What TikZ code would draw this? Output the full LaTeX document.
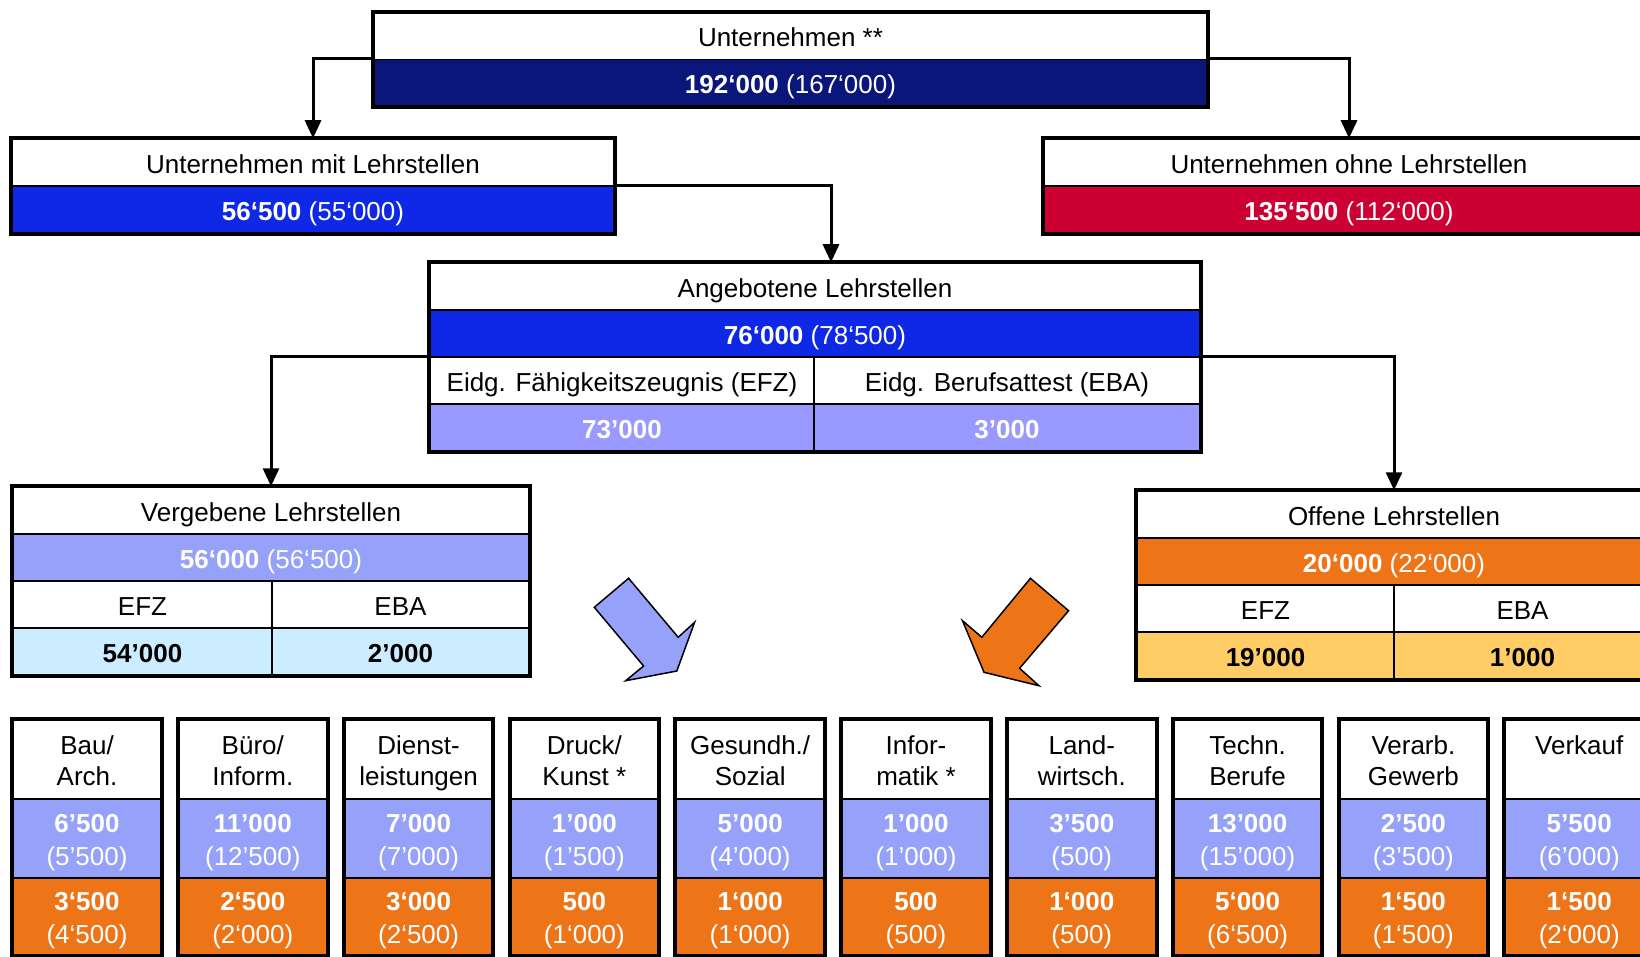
\documentclass[tikz,border=0pt]{standalone}
\usepackage{fontspec}
\setmainfont{Liberation Sans}
\definecolor{unternavy}{RGB}{10, 22, 122}
\definecolor{lehrblue}{RGB}{14, 40, 230}
\definecolor{ohnered}{RGB}{204, 0, 51}
\definecolor{angviolet}{RGB}{153, 153, 255}
\definecolor{vergblue}{RGB}{150, 162, 250}
\definecolor{vergcyan}{RGB}{204, 236, 255}
\definecolor{offorange}{RGB}{238, 116, 24}
\definecolor{offyellow}{RGB}{255, 204, 102}
\usepackage{tikz}
\usetikzlibrary{arrows.meta}
\newcommand{\cellfont}{\fontsize{26}{31}\selectfont}
\newcommand{\colfont}{\fontsize{26}{31}\selectfont}
\newcommand{\numfont}{\fontsize{26}{33}\selectfont}
\newcommand{\colstrut}{\rule{0pt}{30.3pt}}

\begin{document}
\begin{tikzpicture}[x=1pt, y=-1pt,
  cellbase/.style={draw=black, line width=1.5pt, inner sep=0pt, align=center, font=\cellfont},
  cell/.style={cellbase, text height=27pt, text depth=5.5pt},
  numcell/.style={cell, text=white},
  frame/.style={draw=black, line width=4pt},
  conn/.style={draw=black, line width=3pt, -{Triangle[length=18pt, width=16pt]}},
  colhead/.style={cellbase, fill=white, minimum width=148pt, minimum height=79pt, font=\colfont},
  colblue/.style={cellbase, text=white, fill=vergblue, minimum width=148pt, minimum height=79pt, font=\numfont},
  colorange/.style={cellbase, text=white, fill=offorange, minimum width=148pt, minimum height=77pt, font=\numfont},
  blockarrow/.style={draw=black, line width=1.5pt, line join=miter}
]
  \useasboundingbox (0,0) rectangle (1640,957);

  % Unternehmen
  \node[cell, fill=white, minimum width=833pt, minimum height=46.5pt] (unt) at (790.5,36.25) {Unternehmen **};
  \node[numcell, fill=unternavy, minimum width=833pt, minimum height=46.5pt] (untnum) at (790.5,82.75) {\textbf{192‘000} (167‘000)};
  \draw[frame] (unt.north west) rectangle (untnum.south east);

  \node[cell, fill=white, minimum width=602pt, minimum height=47pt] (mit) at (313,162.5) {Unternehmen mit Lehrstellen};
  \node[numcell, fill=lehrblue, minimum width=602pt, minimum height=47pt] (mitnum) at (313,209.5) {\textbf{56‘500} (55‘000)};
  \draw[frame] (mit.north west) rectangle (mitnum.south east);

  \node[cell, fill=white, minimum width=610pt, minimum height=47pt] (ohne) at (1349,162.5) {Unternehmen ohne Lehrstellen};
  \node[numcell, fill=ohnered, minimum width=610pt, minimum height=47pt] (ohnenum) at (1349,209.5) {\textbf{135‘500} (112‘000)};
  \draw[frame] (ohne.north west) rectangle (ohnenum.south east);

  % Angebotene Lehrstellen
  \node[cell, fill=white, minimum width=770pt, minimum height=47pt] (ang) at (815,286.5) {Angebotene Lehrstellen};
  \node[numcell, fill=lehrblue, minimum width=770pt, minimum height=47pt] (angnum) at (815,333.5) {\textbf{76‘000} (78‘500)};
  \node[cell, fill=white, minimum width=384pt, minimum height=47pt] (angefz) at (622,380.5) {Eidg. Fähigkeitszeugnis (EFZ)};
  \node[cell, fill=white, minimum width=386pt, minimum height=47pt] (angeba) at (1007,380.5) {Eidg. Berufsattest (EBA)};
  \node[numcell, fill=angviolet, minimum width=384pt, minimum height=47pt] (angefznum) at (622,427.5) {\textbf{73’000}};
  \node[numcell, fill=angviolet, minimum width=386pt, minimum height=47pt] (angebanum) at (1007,427.5) {\textbf{3’000}};
  \draw[frame] (ang.north west) rectangle (angebanum.south east);

  % Vergebene / Offene Lehrstellen
  \node[cell, fill=white, minimum width=516pt, minimum height=47pt] (verg) at (271,510.5) {Vergebene Lehrstellen};
  \node[numcell, fill=vergblue, minimum width=516pt, minimum height=47pt] (vergnum) at (271,557.5) {\textbf{56‘000} (56‘500)};
  \node[cell, fill=white, minimum width=259pt, minimum height=47pt] (vergefz) at (142.5,604.5) {EFZ};
  \node[cell, fill=white, minimum width=257pt, minimum height=47pt] (vergeba) at (400.5,604.5) {EBA};
  \node[cell, fill=vergcyan, minimum width=259pt, minimum height=47pt] (vergefznum) at (142.5,651.5) {\textbf{54’000}};
  \node[cell, fill=vergcyan, minimum width=257pt, minimum height=47pt] (vergebanum) at (400.5,651.5) {\textbf{2’000}};
  \draw[frame] (verg.north west) rectangle (vergebanum.south east);

  \node[cell, fill=white, minimum width=514pt, minimum height=47pt] (offen) at (1394,514.5) {Offene Lehrstellen};
  \node[numcell, fill=offorange, minimum width=514pt, minimum height=47pt] (offennum) at (1394,561.5) {\textbf{20‘000} (22‘000)};
  \node[cell, fill=white, minimum width=257pt, minimum height=47pt] (offenefz) at (1265.5,608.5) {EFZ};
  \node[cell, fill=white, minimum width=257pt, minimum height=47pt] (offeneba) at (1522.5,608.5) {EBA};
  \node[cell, fill=offyellow, minimum width=257pt, minimum height=47pt] (offenefznum) at (1265.5,655.5) {\textbf{19’000}};
  \node[cell, fill=offyellow, minimum width=257pt, minimum height=47pt] (offenebanum) at (1522.5,655.5) {\textbf{1’000}};
  \draw[frame] (offen.north west) rectangle (offenebanum.south east);

  % Berufsfelder
  \node[colhead] (bau) at (87,759.5) {\colstrut Bau/\\Arch.\strut};
  \node[colblue] (baublue) at (87,838.5) {\colstrut\textbf{6’500}\\(5’500)\strut};
  \node[colorange] (bauor) at (87,916.5) {\colstrut\textbf{3‘500}\\(4‘500)\strut};
  \node[colhead] (buero) at (252.8,759.5) {\colstrut Büro/\\Inform.\strut};
  \node[colblue] (buerblue) at (252.8,838.5) {\colstrut\textbf{11’000}\\(12’500)\strut};
  \node[colorange] (bueror) at (252.8,916.5) {\colstrut\textbf{2‘500}\\(2‘000)\strut};
  \node[colhead] (dienst) at (418.6,759.5) {\colstrut Dienst-\\leistungen\strut};
  \node[colblue] (dienstblue) at (418.6,838.5) {\colstrut\textbf{7’000}\\(7’000)\strut};
  \node[colorange] (dienstor) at (418.6,916.5) {\colstrut\textbf{3‘000}\\(2‘500)\strut};
  \node[colhead] (druck) at (584.4,759.5) {\colstrut Druck/\\Kunst *\strut};
  \node[colblue] (druckblue) at (584.4,838.5) {\colstrut\textbf{1’000}\\(1’500)\strut};
  \node[colorange] (druckor) at (584.4,916.5) {\colstrut\textbf{500}\\(1‘000)\strut};
  \node[colhead] (gesund) at (750.2,759.5) {\colstrut Gesundh./\\Sozial\strut};
  \node[colblue] (gesundblue) at (750.2,838.5) {\colstrut\textbf{5’000}\\(4’000)\strut};
  \node[colorange] (gesundor) at (750.2,916.5) {\colstrut\textbf{1‘000}\\(1‘000)\strut};
  \node[colhead] (info) at (916,759.5) {\colstrut Infor-\\matik *\strut};
  \node[colblue] (infoblue) at (916,838.5) {\colstrut\textbf{1’000}\\(1’000)\strut};
  \node[colorange] (infoor) at (916,916.5) {\colstrut\textbf{500}\\(500)\strut};
  \node[colhead] (land) at (1081.8,759.5) {\colstrut Land-\\wirtsch.\strut};
  \node[colblue] (landblue) at (1081.8,838.5) {\colstrut\textbf{3’500}\\(500)\strut};
  \node[colorange] (landor) at (1081.8,916.5) {\colstrut\textbf{1‘000}\\(500)\strut};
  \node[colhead] (techn) at (1247.6,759.5) {\colstrut Techn.\\Berufe\strut};
  \node[colblue] (technblue) at (1247.6,838.5) {\colstrut\textbf{13’000}\\(15’000)\strut};
  \node[colorange] (technor) at (1247.6,916.5) {\colstrut\textbf{5‘000}\\(6‘500)\strut};
  \node[colhead] (verarb) at (1413.4,759.5) {\colstrut Verarb.\\Gewerb\strut};
  \node[colblue] (verarbblue) at (1413.4,838.5) {\colstrut\textbf{2’500}\\(3’500)\strut};
  \node[colorange] (verarbor) at (1413.4,916.5) {\colstrut\textbf{1‘500}\\(1‘500)\strut};
  \node[colhead] (verkauf) at (1579.2,759.5) {\colstrut Verkauf\\\strut};
  \node[colblue] (verkaufblue) at (1579.2,838.5) {\colstrut\textbf{5’500}\\(6’000)\strut};
  \node[colorange] (verkaufor) at (1579.2,916.5) {\colstrut\textbf{1‘500}\\(2‘000)\strut};
  \draw[frame] (bau.north west) rectangle (bauor.south east);
  \draw[frame] (buero.north west) rectangle (bueror.south east);
  \draw[frame] (dienst.north west) rectangle (dienstor.south east);
  \draw[frame] (druck.north west) rectangle (druckor.south east);
  \draw[frame] (gesund.north west) rectangle (gesundor.south east);
  \draw[frame] (info.north west) rectangle (infoor.south east);
  \draw[frame] (land.north west) rectangle (landor.south east);
  \draw[frame] (techn.north west) rectangle (technor.south east);
  \draw[frame] (verarb.north west) rectangle (verarbor.south east);
  \draw[frame] (verkauf.north west) rectangle (verkaufor.south east);

  % Block arrows
  \draw[blockarrow, fill=vergblue] (628.6,578.3) -- (594.3,607.3) -- (643.6,666) -- (625.7,680.7)
    -- (676.8,671) -- (694.6,622.3) -- (678.2,637.3) -- cycle;
  \draw[blockarrow, fill=offorange] (1030.4,578.3) -- (1068.6,610.7) -- (1019.6,668.3) -- (1038.9,685.7)
    -- (984,672.3) -- (962.5,620.7) -- (981.8,637.3) -- cycle;

  % Connectors
  \draw[conn] (untnum.north west) -| (mit.north);
  \draw[conn] (untnum.north east) -| (ohne.north);
  \draw[conn] (mitnum.north east) -| ([xshift=16pt]ang.north);
  \draw[conn] (angefz.north west) -| (verg.north);
  \draw[conn] (angeba.north east) -| (offen.north);
\end{tikzpicture}
\end{document}
